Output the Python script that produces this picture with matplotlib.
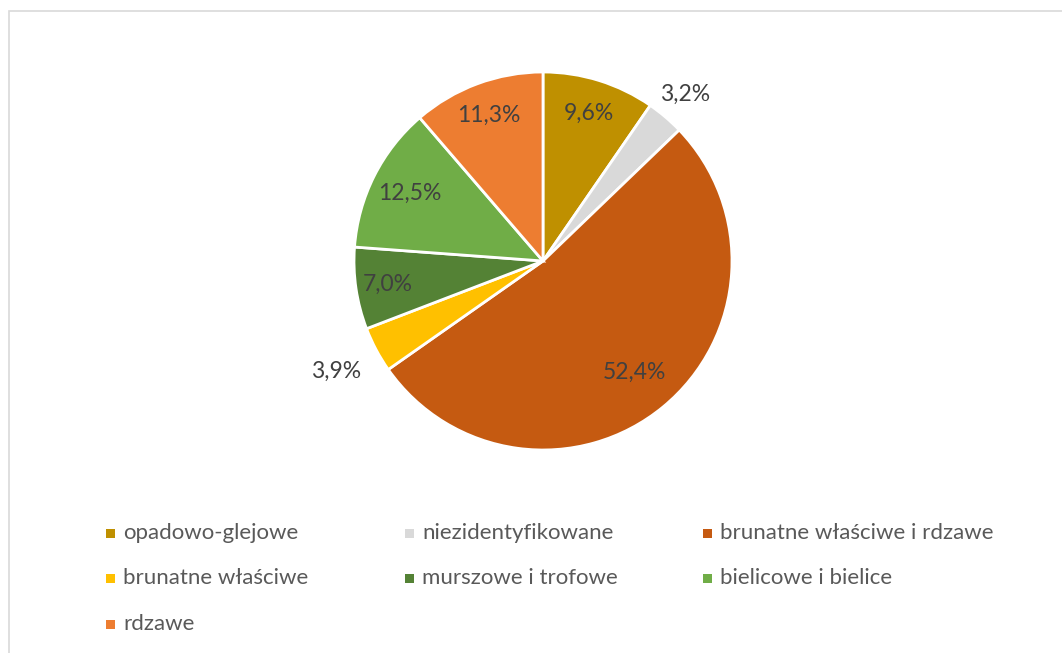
import numpy as np
import matplotlib
matplotlib.use("Agg")
import matplotlib.pyplot as plt
from matplotlib.patches import Rectangle

categories = ["opadowo-glejowe", "niezidentyfikowane", "brunatne właściwe i rdzawe",
              "brunatne właściwe", "murszowe i trofowe", "bielicowe i bielice", "rdzawe"]
values = [9.6, 3.2, 52.4, 3.9, 7.0, 12.5, 11.3]
labels = ["9,6%", "3,2%", "52,4%", "3,9%", "7,0%", "12,5%", "11,3%"]
colors = ["#BF9000", "#D9D9D9", "#C55A11", "#FFC000", "#548235", "#70AD47", "#ED7D31"]
label_dist = [0.82, 1.16, 0.76, 1.24, 0.83, 0.79, 0.82]

plt.rcParams['font.family'] = ['Lato', 'DejaVu Sans']

W, H = 1062, 653
fig = plt.figure(figsize=(W / 100, H / 100), dpi=100)
ax = fig.add_axes([0, 0, 1, 1])

cx, cy, r = 543, H - 261, 189
wedges, _ = ax.pie(values, colors=colors, startangle=90, counterclock=False,
                   center=(cx, cy), radius=r, frame=True,
                   wedgeprops=dict(edgecolor="white", linewidth=2))
ax.set_xlim(0, W)
ax.set_ylim(0, H)
ax.set_aspect('equal')
ax.axis('off')

# frame
ax.add_patch(Rectangle((9, -5), W, H - 11 + 5, fill=False, edgecolor="#D9D9D9", linewidth=1.2))

for w, lab, d in zip(wedges, labels, label_dist):
    ang = np.deg2rad((w.theta1 + w.theta2) / 2)
    ax.text(cx + d * r * np.cos(ang), cy + d * r * np.sin(ang), lab,
            ha='center', va='center', fontsize=16.5, color="#404040")

# legend (row-wise, 3 columns)
col_x = [106, 405, 703]
row_y = [H - 533, H - 578, H - 624]
for i, (cat, col) in enumerate(zip(categories, colors)):
    x = col_x[i % 3]
    y = row_y[i // 3]
    ax.add_patch(Rectangle((x, y - 4.5), 9, 9, facecolor=col, edgecolor='none'))
    ax.text(x + 17, y, cat, ha='left', va='center', fontsize=16, color="#595959")

fig.savefig("out.png", dpi=100)
